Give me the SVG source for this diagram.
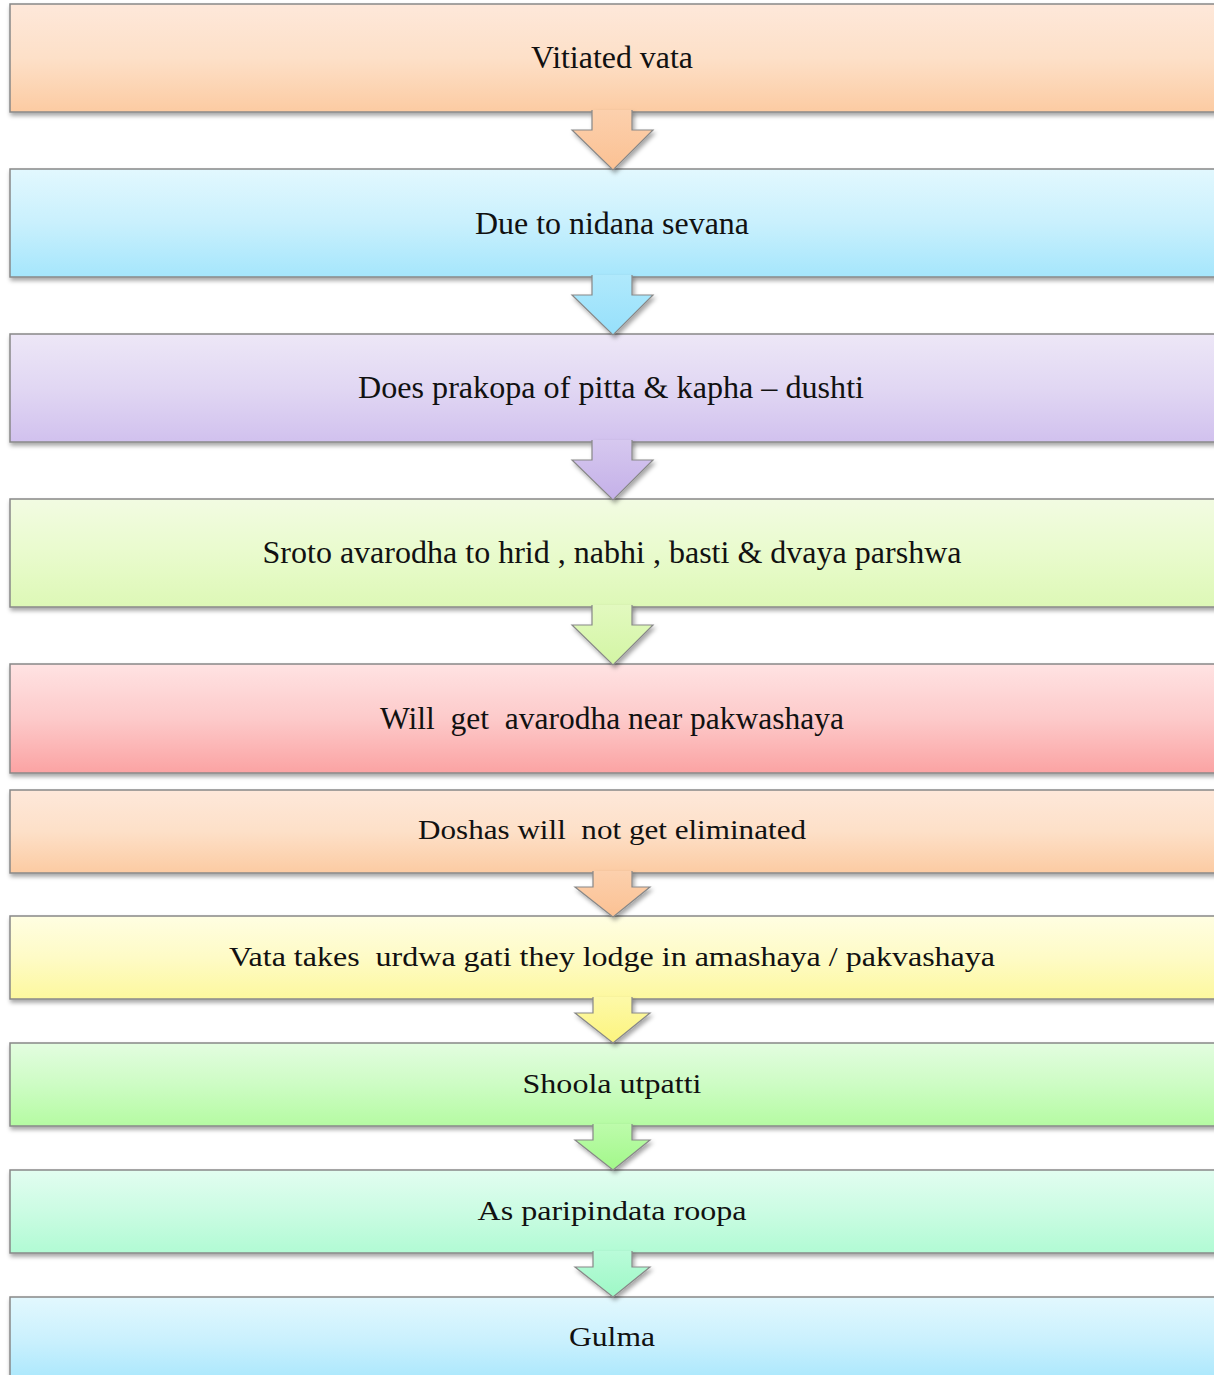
<svg xmlns="http://www.w3.org/2000/svg" width="1214" height="1375" viewBox="0 0 1214 1375">
<defs>
<filter id="sh" x="-5%" y="-20%" width="110%" height="150%"><feDropShadow dx="1" dy="3" stdDeviation="2" flood-color="#000" flood-opacity="0.35"/></filter>
<filter id="ash" x="-30%" y="-30%" width="160%" height="160%"><feDropShadow dx="2" dy="3" stdDeviation="2" flood-color="#000" flood-opacity="0.35"/></filter>
<linearGradient id="gOr" x1="0" y1="0" x2="0" y2="1"><stop offset="0" stop-color="#fee8da"/><stop offset="0.5" stop-color="#fde0c8"/><stop offset="1" stop-color="#fccba2"/></linearGradient>
<linearGradient id="gBl" x1="0" y1="0" x2="0" y2="1"><stop offset="0" stop-color="#e2f8fe"/><stop offset="0.5" stop-color="#c9f0fd"/><stop offset="1" stop-color="#a5e6fc"/></linearGradient>
<linearGradient id="gPu" x1="0" y1="0" x2="0" y2="1"><stop offset="0" stop-color="#ede7f7"/><stop offset="0.5" stop-color="#e1d7f3"/><stop offset="1" stop-color="#d1c1ee"/></linearGradient>
<linearGradient id="gLg" x1="0" y1="0" x2="0" y2="1"><stop offset="0" stop-color="#f2fbe2"/><stop offset="0.5" stop-color="#e9fbcd"/><stop offset="1" stop-color="#ddf8b6"/></linearGradient>
<linearGradient id="gRd" x1="0" y1="0" x2="0" y2="1"><stop offset="0" stop-color="#ffe3e3"/><stop offset="0.5" stop-color="#fdcaca"/><stop offset="1" stop-color="#fba3a3"/></linearGradient>
<linearGradient id="gYe" x1="0" y1="0" x2="0" y2="1"><stop offset="0" stop-color="#fffee2"/><stop offset="0.5" stop-color="#fefbc6"/><stop offset="1" stop-color="#fdf89e"/></linearGradient>
<linearGradient id="gGr" x1="0" y1="0" x2="0" y2="1"><stop offset="0" stop-color="#e3fde0"/><stop offset="0.5" stop-color="#cdfcc4"/><stop offset="1" stop-color="#b5fba2"/></linearGradient>
<linearGradient id="gMi" x1="0" y1="0" x2="0" y2="1"><stop offset="0" stop-color="#e2fdf0"/><stop offset="0.5" stop-color="#cbfce3"/><stop offset="1" stop-color="#b1fbd4"/></linearGradient>
<linearGradient id="aOr" x1="0" y1="0" x2="0" y2="1"><stop offset="0" stop-color="#fcd0ad"/><stop offset="1" stop-color="#fbc193"/></linearGradient>
<linearGradient id="aBl" x1="0" y1="0" x2="0" y2="1"><stop offset="0" stop-color="#b0e9fc"/><stop offset="1" stop-color="#96e0fb"/></linearGradient>
<linearGradient id="aPu" x1="0" y1="0" x2="0" y2="1"><stop offset="0" stop-color="#d6c8ef"/><stop offset="1" stop-color="#c4b0e8"/></linearGradient>
<linearGradient id="aLg" x1="0" y1="0" x2="0" y2="1"><stop offset="0" stop-color="#e2f9bf"/><stop offset="1" stop-color="#d3f5a4"/></linearGradient>
<linearGradient id="aYe" x1="0" y1="0" x2="0" y2="1"><stop offset="0" stop-color="#fdf9a8"/><stop offset="1" stop-color="#fcf47e"/></linearGradient>
<linearGradient id="aGr" x1="0" y1="0" x2="0" y2="1"><stop offset="0" stop-color="#bdfbab"/><stop offset="1" stop-color="#a2f88a"/></linearGradient>
<linearGradient id="aMi" x1="0" y1="0" x2="0" y2="1"><stop offset="0" stop-color="#b9fbd9"/><stop offset="1" stop-color="#9ef8c6"/></linearGradient>
</defs>
<style>
.box{stroke:#888;stroke-width:1.5;filter:url(#sh)}
.arr{stroke:#888;stroke-width:1.2;filter:url(#ash)}
.t{font-family:"Liberation Serif","Times New Roman",serif;fill:#111;text-anchor:middle}
.big{font-size:32px}
.sm{font-size:27px}
</style>
<rect width="1214" height="1375" fill="#fff"/>
<g id="n1"><rect class="box" x="10" y="4" width="1220" height="108" fill="url(#gOr)"/><text class="t big" x="612" y="68" textLength="162" lengthAdjust="spacingAndGlyphs">Vitiated vata</text></g>
<g id="n2"><rect class="box" x="10" y="169" width="1220" height="108" fill="url(#gBl)"/><text class="t big" x="612" y="234" textLength="274" lengthAdjust="spacingAndGlyphs">Due to nidana sevana</text></g>
<g id="n3"><rect class="box" x="10" y="334" width="1220" height="108" fill="url(#gPu)"/><text class="t big" x="611" y="398" textLength="506" lengthAdjust="spacingAndGlyphs">Does prakopa of pitta &amp; kapha – dushti</text></g>
<g id="n4"><rect class="box" x="10" y="499" width="1220" height="108" fill="url(#gLg)"/><text class="t big" x="612" y="563" textLength="699" lengthAdjust="spacingAndGlyphs">Sroto avarodha to hrid , nabhi , basti &amp; dvaya parshwa</text></g>
<g id="n5"><rect class="box" x="10" y="664" width="1220" height="109" fill="url(#gRd)"/><text class="t big" x="612" y="729" textLength="464" lengthAdjust="spacingAndGlyphs" xml:space="preserve">Will  get  avarodha near pakwashaya</text></g>
<g id="n6"><rect class="box" x="10" y="790" width="1220" height="83" fill="url(#gOr)"/><text class="t sm" x="612" y="839" textLength="388" lengthAdjust="spacingAndGlyphs" xml:space="preserve">Doshas will  not get eliminated</text></g>
<g id="n7"><rect class="box" x="10" y="916" width="1220" height="83" fill="url(#gYe)"/><text class="t sm" x="612" y="966" textLength="766" lengthAdjust="spacingAndGlyphs" xml:space="preserve">Vata takes  urdwa gati they lodge in amashaya / pakvashaya</text></g>
<g id="n8"><rect class="box" x="10" y="1043" width="1220" height="83" fill="url(#gGr)"/><text class="t sm" x="612" y="1093" textLength="179" lengthAdjust="spacingAndGlyphs">Shoola utpatti</text></g>
<g id="n9"><rect class="box" x="10" y="1170" width="1220" height="83" fill="url(#gMi)"/><text class="t sm" x="612" y="1220" textLength="269" lengthAdjust="spacingAndGlyphs">As paripindata roopa</text></g>
<g id="n10"><rect class="box" x="10" y="1297" width="1220" height="90" fill="url(#gBl)"/><text class="t sm" x="612" y="1346" textLength="86" lengthAdjust="spacingAndGlyphs">Gulma</text></g>
<g id="connectors">
<path class="arr" fill="url(#aOr)" d="M592,110 V130 H572 L613,170 L653,130 H632 V110"/>
<path class="arr" fill="url(#aBl)" d="M592,275 V295 H572 L613,335 L653,295 H632 V275"/>
<path class="arr" fill="url(#aPu)" d="M592,440 V460 H572 L613,500 L653,460 H632 V440"/>
<path class="arr" fill="url(#aLg)" d="M592,605 V625 H572 L613,665 L653,625 H632 V605"/>
<path class="arr" fill="url(#aOr)" d="M593,871 V887 H575 L613,917 L650,887 H632 V871"/>
<path class="arr" fill="url(#aYe)" d="M593,997 V1013 H575 L613,1043 L650,1013 H632 V997"/>
<path class="arr" fill="url(#aGr)" d="M593,1124 V1140 H575 L613,1170 L650,1140 H632 V1124"/>
<path class="arr" fill="url(#aMi)" d="M593,1251 V1267 H575 L613,1297 L650,1267 H632 V1251"/>
</g>
</svg>
